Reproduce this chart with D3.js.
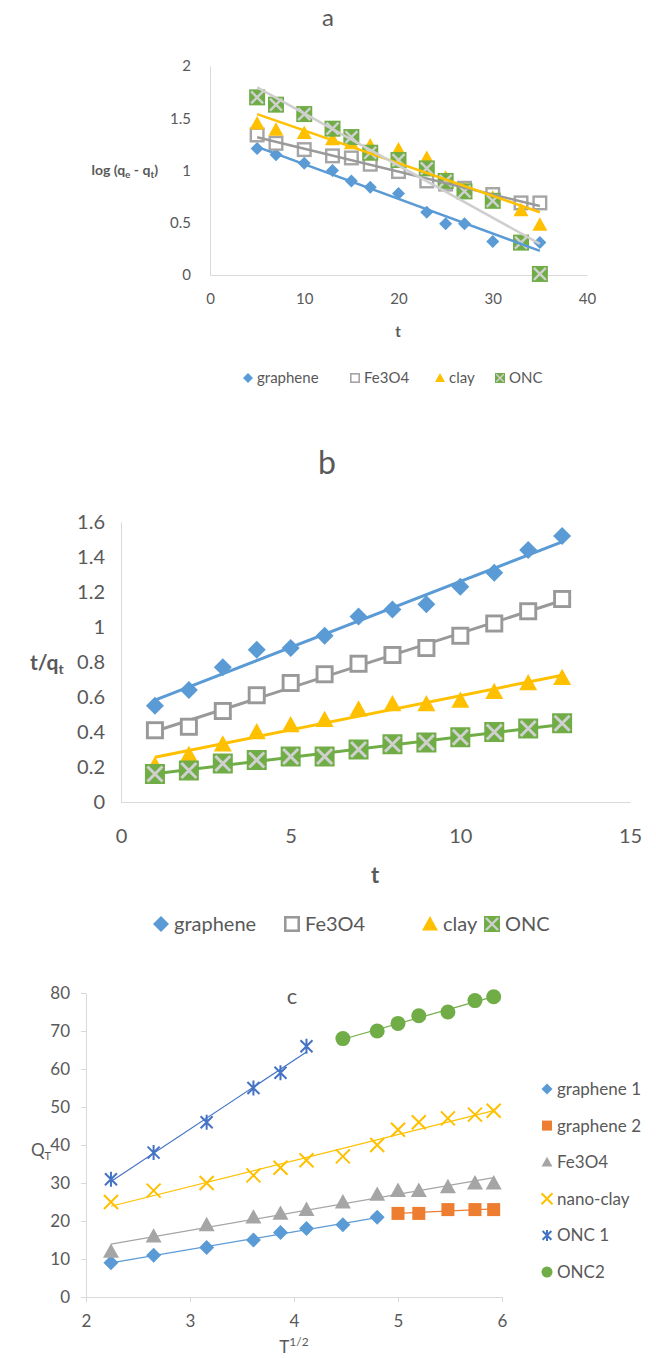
<!DOCTYPE html>
<html>
<head>
<meta charset="utf-8">
<script src="https://cdn.jsdelivr.net/npm/d3@7"></script>
<style>
  body { margin: 0; background: #fff; }
  svg { display: block; font-family: Lato, "Open Sans", sans-serif; }
</style>
</head>
<body>
<svg id="chart" width="656" height="1358"></svg>
<script>
// ---- panel a: log(qe - qt) vs t
const tA = [5, 7, 10, 13, 15, 17, 20, 23, 25, 27, 30, 33, 35]
const aGraphene = [1.21, 1.15, 1.07, 1.0, 0.9, 0.84, 0.78, 0.6, 0.49, 0.49, 0.32, 0.31, 0.31]
const aFe3O4 = [1.34, 1.26, 1.2, 1.14, 1.12, 1.06, 0.99, 0.9, 0.87, 0.83, 0.77, 0.69, 0.69]
const aClay = [1.45, 1.39, 1.36, 1.3, 1.26, 1.24, 1.2, 1.12, 0.93, 0.82, 0.74, 0.62, 0.48]
const aOnc = [1.7, 1.63, 1.54, 1.4, 1.32, 1.17, 1.1, 1.02, 0.9, 0.8, 0.71, 0.31, 0.01]
const aXTicks = [0, 10, 20, 30, 40]
const aYTicks = [0, 0.5, 1, 1.5, 2]

// ---- panel b: t/qt vs t
const tB = [1, 2, 3, 4, 5, 6, 7, 8, 9, 10, 11, 12, 13]
const bGraphene = [0.55, 0.64, 0.77, 0.87, 0.88, 0.95, 1.06, 1.1, 1.13, 1.23, 1.31, 1.44, 1.52]
const bFe3O4 = [0.41, 0.43, 0.52, 0.61, 0.68, 0.73, 0.79, 0.84, 0.88, 0.95, 1.02, 1.09, 1.16]
const bClay = [0.21, 0.27, 0.33, 0.4, 0.44, 0.47, 0.53, 0.56, 0.56, 0.58, 0.63, 0.68, 0.71]
const bOnc = [0.16, 0.18, 0.22, 0.24, 0.26, 0.26, 0.3, 0.33, 0.34, 0.37, 0.4, 0.42, 0.45]
const bXTicks = [0, 5, 10, 15]
const bYTicks = [0, 0.2, 0.4, 0.6, 0.8, 1, 1.2, 1.4, 1.6]

// ---- panel c: QT vs T^1/2
const cXAll = [2.24, 2.65, 3.16, 3.61, 3.87, 4.12, 4.47, 4.8, 5.0, 5.2, 5.48, 5.74, 5.92]
const cXGraphene1 = [2.24, 2.65, 3.16, 3.61, 3.87, 4.12, 4.47, 4.8]
const cGraphene1 = [9, 11, 13, 15, 17, 18, 19, 21]
const cXGraphene2 = [5.0, 5.2, 5.48, 5.74, 5.92]
const cGraphene2 = [22, 22, 23, 23, 23]
const cFe3O4 = [12, 16, 19, 21, 22, 23, 25, 27, 28, 28, 29, 30, 30]
const cNanoClay = [25, 28, 30, 32, 34, 36, 37, 40, 44, 46, 47, 48, 49]
const cXOnc1 = [2.24, 2.65, 3.16, 3.61, 3.87, 4.12]
const cOnc1 = [31, 38, 46, 55, 59, 66]
const cXOnc2 = [4.47, 4.8, 5.0, 5.2, 5.48, 5.74, 5.92]
const cOnc2 = [68, 70, 72, 74, 75, 78, 79]
const cXTicks = [2, 3, 4, 5, 6]
const cYTicks = [0, 10, 20, 30, 40, 50, 60, 70, 80]

const blue = '#5B9BD5', gray = '#A5A5A5', gold = '#FFC000', green = '#70AD47'
const orange = '#ED7D31', navy = '#4472C4'
const textColor = '#595959', axisColor = '#d9d9d9'

const svg = d3.select('#chart')

// least squares line
const fit = (xs, ys) => {
  const mx = d3.mean(xs), my = d3.mean(ys)
  const b = d3.sum(xs, (x, i) => (x - mx) * (ys[i] - my)) / d3.sum(xs, x => (x - mx) ** 2)
  return x => my + b * (x - mx)
}

// one marker at the origin of g, s = half size
function marker(g, shape, color, s) {
  if (shape === 'diamond') {
    g.append('path').attr('d', `M0,${-s}L${s},0L0,${s}L${-s},0Z`).attr('fill', color)
  } else if (shape === 'openSquare') {
    const w = Math.max(1.2, s * 0.32)
    g.append('rect').attr('x', -s + w / 2).attr('y', -s + w / 2)
      .attr('width', 2 * s - w).attr('height', 2 * s - w)
      .attr('fill', '#fff').attr('stroke', color).attr('stroke-width', w)
  } else if (shape === 'square') {
    g.append('rect').attr('x', -s).attr('y', -s).attr('width', 2 * s).attr('height', 2 * s).attr('fill', color)
  } else if (shape === 'triangle') {
    g.append('path').attr('d', `M0,${-s}L${s},${s * 0.8}L${-s},${s * 0.8}Z`).attr('fill', color)
  } else if (shape === 'crossSquare') {
    g.append('rect').attr('x', -s).attr('y', -s).attr('width', 2 * s).attr('height', 2 * s).attr('fill', color)
    const k = s * 0.75
    g.append('path').attr('d', `M${-k},${-k}L${k},${k}M${k},${-k}L${-k},${k}`)
      .attr('stroke', '#d0d0d0').attr('stroke-width', Math.max(1, s * 0.3)).attr('fill', 'none')
  } else if (shape === 'x') {
    g.append('path').attr('d', `M${-s},${-s}L${s},${s}M${s},${-s}L${-s},${s}`)
      .attr('stroke', color).attr('stroke-width', 2).attr('fill', 'none')
  } else if (shape === 'star') {
    g.append('path').attr('d', `M${-s * 0.8},${-s * 0.8}L${s * 0.8},${s * 0.8}M${s * 0.8},${-s * 0.8}L${-s * 0.8},${s * 0.8}M0,${-s}L0,${s}`)
      .attr('stroke', color).attr('stroke-width', 2).attr('fill', 'none')
  } else if (shape === 'circle') {
    g.append('circle').attr('r', s).attr('fill', color)
  }
}

function drawPoints(parent, xs, ys, x, y, shape, color, s) {
  const g = parent.append('g')
  xs.forEach((xv, i) => {
    if (ys[i] == null) return
    marker(g.append('g').attr('transform', `translate(${x(xv)},${y(ys[i])})`), shape, color, s)
  })
}

function drawTrend(parent, xs, ys, x, y, color, w) {
  const f = fit(xs, ys)
  const ends = d3.extent(xs)
  parent.append('line')
    .attr('x1', x(ends[0])).attr('y1', y(f(ends[0])))
    .attr('x2', x(ends[1])).attr('y2', y(f(ends[1])))
    .attr('stroke', color).attr('stroke-width', w)
}

function styleAxis(g, size) {
  g.select('.domain').attr('stroke', axisColor)
  g.selectAll('.tick line').attr('stroke', axisColor)
  g.selectAll('.tick text').attr('fill', textColor).attr('font-size', size)
  g.attr('font-family', null)
}

const fmt = d => String(+d.toFixed(1))

// ================= panel a =================
{
  const x = d3.scaleLinear().domain([0, 40]).range([210, 587])
  const y = d3.scaleLinear().domain([0, 2]).range([275, 66])
  const g = svg.append('g')

  g.append('text').text('a').attr('x', 328).attr('y', 26)
    .attr('text-anchor', 'middle').attr('font-size', 24).attr('fill', textColor)

  g.append('g').attr('transform', 'translate(0,275)')
    .call(d3.axisBottom(x).tickValues(aXTicks).tickSize(0).tickPadding(18).tickFormat(fmt))
    .call(a => styleAxis(a, 15))
  g.append('g').attr('transform', 'translate(210,0)')
    .call(d3.axisLeft(y).tickValues(aYTicks).tickSize(0).tickPadding(19).tickFormat(fmt))
    .call(a => styleAxis(a, 15))

  g.append('text').text('t').attr('x', 398).attr('y', 337)
    .attr('text-anchor', 'middle').attr('font-size', 15).attr('font-weight', 'bold').attr('fill', textColor)

  const yl = g.append('text').attr('x', 158).attr('y', 175).attr('text-anchor', 'end')
    .attr('font-size', 14).attr('font-weight', 'bold').attr('fill', textColor)
  yl.append('tspan').text('log (q')
  yl.append('tspan').text('e').attr('font-size', 10).attr('dy', 3)
  yl.append('tspan').text(' - q').attr('dy', -3)
  yl.append('tspan').text('t').attr('font-size', 10).attr('dy', 3)
  yl.append('tspan').text(')').attr('dy', -3)

  drawPoints(g, tA, aGraphene, x, y, 'diamond', blue, 6.5)
  drawPoints(g, tA, aFe3O4, x, y, 'openSquare', gray, 7.5)
  drawPoints(g, tA, aClay, x, y, 'triangle', gold, 7.5)
  drawPoints(g, tA, aOnc, x, y, 'crossSquare', green, 8)

  drawTrend(g, tA, aGraphene, x, y, blue, 2.5)
  drawTrend(g, tA, aFe3O4, x, y, '#9a9a9a', 2.5)
  drawTrend(g, tA, aClay, x, y, gold, 2.5)
  drawTrend(g, tA, aOnc, x, y, '#cfcfcf', 2.5)

  const legend = [
    { name: 'graphene', shape: 'diamond', color: blue, x: 248 },
    { name: 'Fe3O4', shape: 'openSquare', color: gray, x: 355 },
    { name: 'clay', shape: 'triangle', color: gold, x: 440 },
    { name: 'ONC', shape: 'crossSquare', color: green, x: 500 }
  ]
  legend.forEach(d => {
    marker(g.append('g').attr('transform', `translate(${d.x},378)`), d.shape, d.color, 5)
    g.append('text').text(d.name).attr('x', d.x + 9).attr('y', 383)
      .attr('font-size', 15).attr('fill', textColor)
  })
}

// ================= panel b =================
{
  const x = d3.scaleLinear().domain([0, 15]).range([121, 630])
  const y = d3.scaleLinear().domain([0, 1.6]).range([802, 522])
  const g = svg.append('g')

  g.append('text').text('b').attr('x', 327).attr('y', 474)
    .attr('text-anchor', 'middle').attr('font-size', 32).attr('fill', textColor)

  g.append('g').attr('transform', 'translate(0,802)')
    .call(d3.axisBottom(x).tickValues(bXTicks).tickSize(0).tickPadding(27).tickFormat(fmt))
    .call(a => styleAxis(a, 20))
  g.append('g').attr('transform', 'translate(121,0)')
    .call(d3.axisLeft(y).tickValues(bYTicks).tickSize(0).tickPadding(16).tickFormat(fmt))
    .call(a => styleAxis(a, 20))

  g.append('text').text('t').attr('x', 375).attr('y', 883)
    .attr('text-anchor', 'middle').attr('font-size', 22).attr('font-weight', 'bold').attr('fill', textColor)

  const yl = g.append('text').attr('x', 30).attr('y', 670)
    .attr('font-size', 21).attr('font-weight', 'bold').attr('fill', textColor)
  yl.append('tspan').text('t/q')
  yl.append('tspan').text('t').attr('font-size', 14).attr('dy', 4)

  drawTrend(g, tB, bGraphene, x, y, blue, 3)
  drawTrend(g, tB, bFe3O4, x, y, '#999', 3)
  drawTrend(g, tB, bClay, x, y, gold, 3)
  drawTrend(g, tB, bOnc, x, y, green, 3)

  drawPoints(g, tB, bGraphene, x, y, 'diamond', blue, 9)
  drawPoints(g, tB, bFe3O4, x, y, 'openSquare', '#999', 9)
  drawPoints(g, tB, bClay, x, y, 'triangle', gold, 9)
  drawPoints(g, tB, bOnc, x, y, 'crossSquare', green, 10)

  const legend = [
    { name: 'graphene', shape: 'diamond', color: blue, x: 161 },
    { name: 'Fe3O4', shape: 'openSquare', color: '#999', x: 292 },
    { name: 'clay', shape: 'triangle', color: gold, x: 430 },
    { name: 'ONC', shape: 'crossSquare', color: green, x: 492 }
  ]
  legend.forEach(d => {
    marker(g.append('g').attr('transform', `translate(${d.x},924)`), d.shape, d.color, 8)
    g.append('text').text(d.name).attr('x', d.x + 13).attr('y', 931)
      .attr('font-size', 20).attr('fill', textColor)
  })
}

// ================= panel c =================
{
  const x = d3.scaleLinear().domain([2, 6]).range([86, 502])
  const y = d3.scaleLinear().domain([0, 80]).range([1297, 993])
  const g = svg.append('g')

  g.append('text').text('c').attr('x', 292).attr('y', 1004)
    .attr('text-anchor', 'middle').attr('font-size', 22).attr('fill', textColor)

  g.append('g').attr('transform', 'translate(0,1297)')
    .call(d3.axisBottom(x).tickValues(cXTicks).tickSize(5).tickSizeOuter(0).tickPadding(13).tickFormat(d3.format('d')))
    .call(a => styleAxis(a, 17))
  g.append('g').attr('transform', 'translate(86,0)')
    .call(d3.axisLeft(y).tickValues(cYTicks).tickSize(5).tickSizeOuter(0).tickPadding(11).tickFormat(d3.format('d')))
    .call(a => styleAxis(a, 17))

  const xl = g.append('text').attr('x', 294).attr('y', 1353).attr('text-anchor', 'middle')
    .attr('font-size', 17).attr('fill', textColor)
  xl.append('tspan').text('T')
  xl.append('tspan').text('1/2').attr('font-size', 12).attr('dy', -7)

  const yl = g.append('text').attr('x', 31).attr('y', 1156)
    .attr('font-size', 17).attr('fill', textColor)
  yl.append('tspan').text('Q')
  yl.append('tspan').text('T').attr('font-size', 11).attr('dy', 4)

  drawTrend(g, cXGraphene1, cGraphene1, x, y, blue, 1.2)
  drawTrend(g, cXGraphene2, cGraphene2, x, y, orange, 1.2)
  drawTrend(g, cXAll, cFe3O4, x, y, gray, 1.2)
  drawTrend(g, cXAll, cNanoClay, x, y, gold, 1.2)
  drawTrend(g, cXOnc1, cOnc1, x, y, navy, 1.2)
  drawTrend(g, cXOnc2, cOnc2, x, y, green, 1.2)

  drawPoints(g, cXGraphene1, cGraphene1, x, y, 'diamond', blue, 7.5)
  drawPoints(g, cXGraphene2, cGraphene2, x, y, 'square', orange, 6.5)
  drawPoints(g, cXAll, cFe3O4, x, y, 'triangle', gray, 8)
  drawPoints(g, cXAll, cNanoClay, x, y, 'x', gold, 7)
  drawPoints(g, cXOnc1, cOnc1, x, y, 'star', navy, 7.5)
  drawPoints(g, cXOnc2, cOnc2, x, y, 'circle', green, 7.5)

  const legend = [
    { name: 'graphene 1', shape: 'diamond', color: blue },
    { name: 'graphene 2', shape: 'square', color: orange },
    { name: 'Fe3O4', shape: 'triangle', color: gray },
    { name: 'nano-clay', shape: 'x', color: gold },
    { name: 'ONC 1', shape: 'star', color: navy },
    { name: 'ONC2', shape: 'circle', color: green }
  ]
  legend.forEach((d, i) => {
    const ly = 1089 + i * 36.6
    marker(g.append('g').attr('transform', `translate(547,${ly})`), d.shape, d.color, d.shape === 'square' ? 5 : 5.5)
    g.append('text').text(d.name).attr('x', 557).attr('y', ly + 6)
      .attr('font-size', 17).attr('fill', textColor)
  })
}
</script>
</body>
</html>
